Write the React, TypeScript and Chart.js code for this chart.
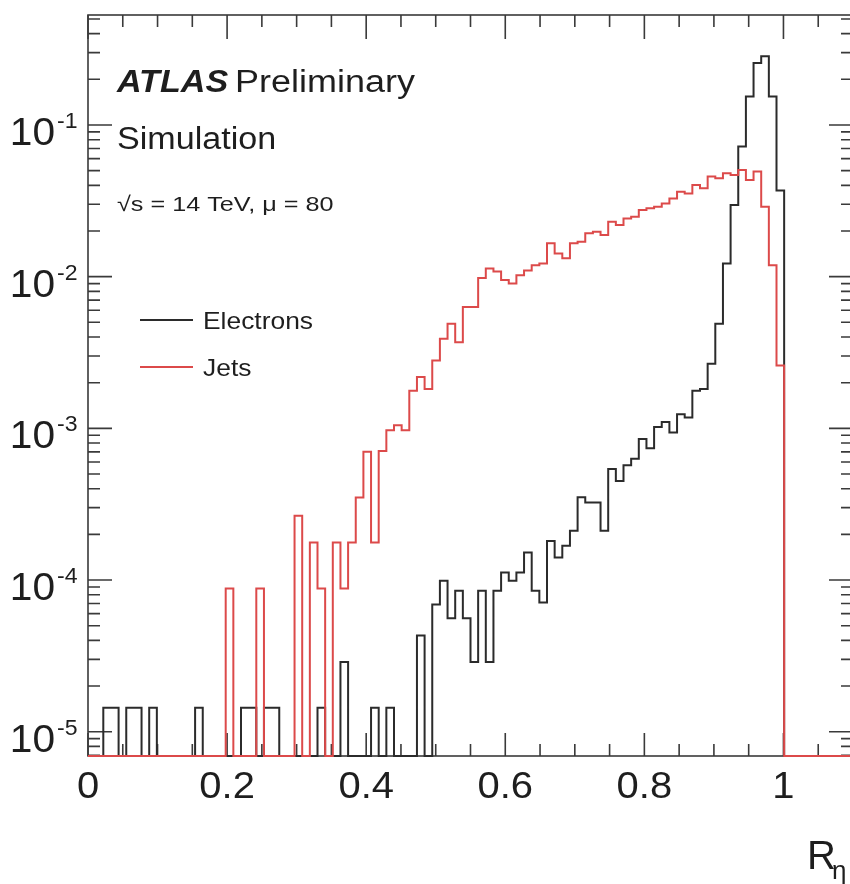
import React, { useEffect, useRef } from "react";
import { Chart, registerables } from "chart.js";

Chart.register(...registerables);

// ---- data ----
const BIN_WIDTH = 0.011; // 100 bins over [0, 1.1]

const ELECTRONS: number[] = [
  0, 0, 1.44e-5, 1.44e-5, 0, 1.44e-5, 1.44e-5, 0, 1.44e-5, 0,
  0, 0, 0, 0, 1.44e-5, 0, 0, 0, 0, 0,
  1.44e-5, 1.44e-5, 0, 1.44e-5, 1.44e-5, 0, 0, 0, 0, 0,
  1.44e-5, 0, 0, 2.88e-5, 0, 0, 0, 1.44e-5, 0, 1.44e-5,
  0, 0, 0, 4.3e-5, 0, 6.9e-5, 9.9e-5, 5.6e-5, 8.5e-5, 5.6e-5,
  2.88e-5, 8.5e-5, 2.88e-5, 8.5e-5, 1.12e-4, 9.9e-5, 1.12e-4, 1.52e-4, 8.5e-5, 7.1e-5,
  1.81e-4, 1.41e-4, 1.68e-4, 2.11e-4, 3.51e-4, 3.25e-4, 3.25e-4, 2.11e-4, 5.4e-4, 4.5e-4,
  5.7e-4, 6.3e-4, 8.5e-4, 7.4e-4, 1.02e-3, 1.1e-3, 9.4e-4, 1.24e-3, 1.18e-3, 1.77e-3,
  1.82e-3, 2.67e-3, 4.9e-3, 1.22e-2, 2.97e-2, 7.2e-2, 0.154, 0.256, 0.284, 0.154,
  3.7e-2, 0, 0, 0, 0, 0, 0, 0, 0, 0,
];

const JETS: number[] = [
  0, 0, 0, 0, 0, 0, 0, 0, 0, 0,
  0, 0, 0, 0, 0, 0, 0, 0, 8.8e-5, 0,
  0, 0, 8.8e-5, 0, 0, 0, 0, 2.65e-4, 0, 1.77e-4,
  8.8e-5, 0, 1.77e-4, 8.8e-5, 1.77e-4, 3.5e-4, 7.0e-4, 1.77e-4, 7.1e-4, 9.7e-4,
  1.05e-3, 9.7e-4, 1.77e-3, 2.18e-3, 1.82e-3, 2.8e-3, 3.9e-3, 4.9e-3, 3.7e-3, 6.3e-3,
  6.3e-3, 9.8e-3, 1.13e-2, 1.08e-2, 9.5e-3, 9.0e-3, 1.02e-2, 1.1e-2, 1.19e-2, 1.22e-2,
  1.66e-2, 1.42e-2, 1.32e-2, 1.66e-2, 1.7e-2, 1.93e-2, 1.98e-2, 1.88e-2, 2.3e-2, 2.19e-2,
  2.42e-2, 2.48e-2, 2.75e-2, 2.82e-2, 2.89e-2, 3.04e-2, 3.28e-2, 3.63e-2, 3.54e-2, 4.02e-2,
  3.82e-2, 4.57e-2, 4.45e-2, 4.8e-2, 4.68e-2, 5.05e-2, 4.34e-2, 4.93e-2, 2.89e-2, 1.19e-2,
  2.6e-3, 0, 0, 0, 0, 0, 0, 0, 0, 0,
];

const SERIES_LABELS = ["Electrons", "Jets"];
const X_TICK_VALUES = [0, 0.2, 0.4, 0.6, 0.8, 1];
const X_TICK_LABELS = ["0", "0.2", "0.4", "0.6", "0.8", "1"];
const Y_DECADES = [-1, -2, -3, -4, -5];
const X_TITLE = "R";
const X_TITLE_SUB = "η";
const HEADER_BOLD = "ATLAS";
const HEADER_REST = "Preliminary";
const HEADER_LINE2 = "Simulation";
const HEADER_LINE3 = "√s = 14 TeV, μ = 80";

const X_MIN = 0;
const X_MAX = 1.1;
const Y_MIN = 6.915e-6;
const Y_MAX = 0.531;

// ---- styles ----
const FONT = '"Liberation Sans", Arial, Helvetica, sans-serif';
const TEXT_COLOR = "#1e1e1e";
const FRAME_COLOR = "#3a3a3a";
const BLACK_LINE = "#2b2b2b";
const RED_LINE = "#dc4a4a";

function histPoints(values: number[]) {
  const pts: { x: number; y: number }[] = [{ x: 0, y: Y_MIN }];
  values.forEach((v, i) => {
    const y = v > 0 ? v : Y_MIN;
    pts.push({ x: i * BIN_WIDTH, y }, { x: (i + 1) * BIN_WIDTH, y });
  });
  pts.push({ x: values.length * BIN_WIDTH, y: Y_MIN });
  return pts;
}

function drawText(
  ctx: CanvasRenderingContext2D,
  text: string,
  x: number,
  y: number,
  font: string,
  align: CanvasTextAlign = "left",
  sx = 1.1
) {
  ctx.save();
  ctx.translate(x, y);
  ctx.scale(sx, 1);
  ctx.font = font;
  ctx.textAlign = align;
  ctx.textBaseline = "alphabetic";
  ctx.fillStyle = TEXT_COLOR;
  ctx.fillText(text, 0, 0);
  ctx.restore();
}

const decorPlugin = {
  id: "atlasDecor",
  beforeDatasetsDraw(chart: any) {
    const { ctx, chartArea } = chart;
    const xs = chart.scales.x;
    const ys = chart.scales.y;
    const { left, right, top, bottom } = chartArea;
    ctx.save();
    ctx.strokeStyle = FRAME_COLOR;
    ctx.lineWidth = 1.6;
    ctx.strokeRect(left, top, right - left, bottom - top);

    ctx.beginPath();
    // x ticks (bottom and top, inward)
    for (let k = 0; k <= 22; k++) {
      const v = k * 0.05;
      if (v > X_MAX + 1e-9) break;
      const major = X_TICK_VALUES.some((t) => Math.abs(t - v) < 1e-9);
      const px = xs.getPixelForValue(v);
      const lenB = major ? 23 : 12;
      const lenT = major ? 24 : 12;
      ctx.moveTo(px, bottom);
      ctx.lineTo(px, bottom - lenB);
      ctx.moveTo(px, top);
      ctx.lineTo(px, top + lenT);
    }
    // y ticks (left and right, inward)
    for (let d = -6; d <= 0; d++) {
      for (let m = 1; m <= 9; m++) {
        const v = m * Math.pow(10, d);
        if (v < Y_MIN || v > Y_MAX) continue;
        const py = ys.getPixelForValue(v);
        const len = m === 1 ? 24 : 12;
        ctx.moveTo(left, py);
        ctx.lineTo(left + len, py);
        ctx.moveTo(right, py);
        ctx.lineTo(right - len, py);
      }
    }
    ctx.stroke();
    ctx.restore();
  },
  afterDatasetsDraw(chart: any) {
    const { ctx } = chart;
    const xs = chart.scales.x;
    const ys = chart.scales.y;

    // x tick labels
    X_TICK_VALUES.forEach((v, i) => {
      drawText(ctx, X_TICK_LABELS[i], xs.getPixelForValue(v), 798, `37px ${FONT}`, "center", 1.08);
    });
    // y tick labels: 10^d
    Y_DECADES.forEach((d) => {
      const py = ys.getPixelForValue(Math.pow(10, d));
      drawText(ctx, "10", 55, py + 20, `38px ${FONT}`, "right", 1.07);
      drawText(ctx, String(d), 57, py + 3, `22px ${FONT}`, "left", 1.05);
    });
    // x title
    drawText(ctx, X_TITLE, 807, 869, `40px ${FONT}`, "left", 1.0);
    drawText(ctx, X_TITLE_SUB, 832, 879, `26px ${FONT}`, "left", 1.0);

    // header
    ctx.save();
    ctx.font = `italic bold 31px ${FONT}`;
    const wAtlas = ctx.measureText(HEADER_BOLD).width * 1.1;
    ctx.restore();
    drawText(ctx, HEADER_BOLD, 117, 92, `italic bold 31px ${FONT}`, "left", 1.1);
    drawText(ctx, HEADER_REST, 117 + wAtlas + 7, 92, `31px ${FONT}`, "left", 1.16);
    drawText(ctx, HEADER_LINE2, 117, 149, `31px ${FONT}`, "left", 1.1);
    drawText(ctx, HEADER_LINE3, 117, 211, `21px ${FONT}`, "left", 1.2);

    // legend
    const legendY = [320, 367];
    chart.data.datasets.forEach((ds: any, i: number) => {
      const y = legendY[i];
      ctx.save();
      ctx.strokeStyle = ds.borderColor;
      ctx.lineWidth = 2;
      ctx.beginPath();
      ctx.moveTo(140, y);
      ctx.lineTo(193, y);
      ctx.stroke();
      ctx.restore();
      drawText(ctx, ds.label, 203, y + 9, `24px ${FONT}`, "left", 1.1);
    });
  },
};

export default function App() {
  const canvasRef = useRef<HTMLCanvasElement | null>(null);

  useEffect(() => {
    const canvas = canvasRef.current;
    if (!canvas) return;
    const chart = new Chart(canvas, {
      type: "line",
      data: {
        datasets: [
          {
            label: SERIES_LABELS[0],
            data: histPoints(ELECTRONS),
            borderColor: BLACK_LINE,
            borderWidth: 2,
            pointRadius: 0,
            tension: 0,
            fill: false,
            clip: false as any,
            order: 2,
            borderJoinStyle: "miter",
          },
          {
            label: SERIES_LABELS[1],
            data: histPoints(JETS),
            borderColor: RED_LINE,
            borderWidth: 2,
            pointRadius: 0,
            tension: 0,
            fill: false,
            clip: false as any,
            order: 1,
            borderJoinStyle: "miter",
          },
        ],
      },
      options: {
        responsive: false,
        animation: false,
        layout: { padding: { left: 88, top: 15, right: 3, bottom: 128 } },
        scales: {
          x: { type: "linear", min: X_MIN, max: X_MAX, display: false },
          y: { type: "logarithmic", min: Y_MIN, max: Y_MAX, display: false },
        },
        plugins: {
          legend: { display: false },
          tooltip: { enabled: false },
        },
        events: [],
      },
      plugins: [decorPlugin],
    });
    return () => chart.destroy();
  }, []);

  return (
    <div
      style={{
        position: "fixed",
        left: 0,
        top: 0,
        width: 850,
        height: 884,
        overflow: "hidden",
        background: "#ffffff",
      }}
    >
      <canvas ref={canvasRef} width={856} height={884} style={{ display: "block" }} />
    </div>
  );
}
